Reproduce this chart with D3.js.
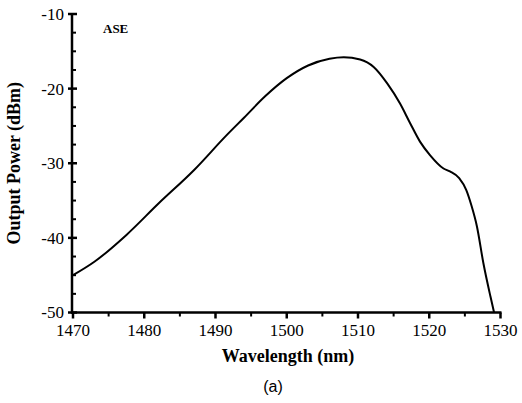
<!DOCTYPE html>
<html>
<head>
<meta charset="utf-8">
<script src="https://cdn.jsdelivr.net/npm/d3@7/dist/d3.min.js"></script>
<style>
  html, body { margin: 0; padding: 0; background: #fff; }
  svg { display: block; }
  .serif { font-family: "Liberation Serif", "Times New Roman", Times, serif; }
  .sans { font-family: "Liberation Sans", Arial, sans-serif; }
</style>
</head>
<body>
<svg id="chart" width="522" height="403"></svg>
<script>
const wavelength = [1470, 1473, 1477.5, 1482, 1487, 1491.5, 1494, 1497, 1500, 1503, 1506, 1508, 1510.3, 1512.2, 1514.1, 1515.9, 1517.3, 1518.7, 1520.1, 1522.0, 1522.9, 1524.2, 1525.2, 1525.9, 1526.7, 1527.6, 1528.6, 1529.1];
const power = [-45.0, -43.2, -39.6, -35.4, -30.9, -26.3, -23.9, -21.0, -18.6, -16.9, -16.0, -15.8, -16.1, -17.1, -19.3, -22.0, -24.6, -27.1, -28.9, -30.7, -31.1, -32.0, -33.6, -35.6, -38.5, -43.4, -47.9, -50];
const xTicks = [1470, 1480, 1490, 1500, 1510, 1520, 1530];
const yTicks = [-10, -20, -30, -40, -50];
const seriesLabel = "ASE";
const xTitle = "Wavelength (nm)";
const yTitle = "Output Power (dBm)";
const caption = "(a)";

const svg = d3.select("#chart");
const x = d3.scaleLinear().domain([1470, 1530]).range([73, 500.5]);
const y = d3.scaleLinear().domain([-50, -10]).range([312.5, 14]);

// x axis
const xAxis = svg.append("g").attr("transform", `translate(0,${y(-50)})`);
xAxis.append("line").attr("x1", x(1470) - 2).attr("x2", x(1530) + 1)
  .attr("stroke", "#000").attr("stroke-width", 2.5);
xAxis.selectAll(".maj").data(xTicks).join("line")
  .attr("x1", d => x(d)).attr("x2", d => x(d)).attr("y1", 0).attr("y2", 6)
  .attr("stroke", "#000").attr("stroke-width", 2.5);
xAxis.selectAll(".min").data(d3.range(1475, 1530, 10)).join("line")
  .attr("x1", d => x(d)).attr("x2", d => x(d)).attr("y1", 0).attr("y2", 4)
  .attr("stroke", "#000").attr("stroke-width", 2);
xAxis.selectAll("text").data(xTicks).join("text")
  .attr("class", "serif")
  .attr("x", d => x(d)).attr("y", 23).attr("text-anchor", "middle")
  .attr("font-size", 17).text(d => d);

// y axis
const yAxis = svg.append("g").attr("transform", `translate(${x(1470) - 1},0)`);
yAxis.append("line").attr("y1", y(-10) - 1).attr("y2", y(-50) + 1)
  .attr("stroke", "#000").attr("stroke-width", 2.5);
yAxis.selectAll(".maj").data(yTicks).join("line")
  .attr("y1", d => y(d)).attr("y2", d => y(d)).attr("x1", -4).attr("x2", 5)
  .attr("stroke", "#000").attr("stroke-width", 2.5);
yAxis.selectAll(".min").data(d3.range(-47.5, -10, 2.5).filter(v => v % 10 !== 0)).join("line")
  .attr("y1", d => y(d)).attr("y2", d => y(d)).attr("x1", 0).attr("x2", 4)
  .attr("stroke", "#000").attr("stroke-width", 2);
yAxis.selectAll("text").data(yTicks).join("text")
  .attr("class", "serif")
  .attr("x", -8).attr("y", d => y(d)).attr("dy", "0.35em").attr("text-anchor", "end")
  .attr("font-size", 17).text(d => d);

// curve
const pts = wavelength.map((w, i) => [w, power[i]]);
const line = d3.line().x(d => x(d[0])).y(d => y(d[1])).curve(d3.curveMonotoneX);
svg.append("path").datum(pts).attr("d", line)
  .attr("fill", "none").attr("stroke", "#000").attr("stroke-width", 2);

// labels
svg.append("text").attr("class", "serif").attr("x", 103).attr("y", 33)
  .attr("font-weight", "bold").attr("font-size", 13).text(seriesLabel);
svg.append("text").attr("class", "serif").attr("x", 288).attr("y", 362).attr("text-anchor", "middle")
  .attr("font-weight", "bold").attr("font-size", 18).text(xTitle);
svg.append("text").attr("class", "serif").attr("transform", `translate(20,${y(-30)}) rotate(-90)`).attr("text-anchor", "middle")
  .attr("font-weight", "bold").attr("font-size", 18).text(yTitle);
svg.append("text").attr("class", "sans").attr("x", 273).attr("y", 392).attr("text-anchor", "middle")
  .attr("font-size", 16).text(caption);
</script>
</body>
</html>
